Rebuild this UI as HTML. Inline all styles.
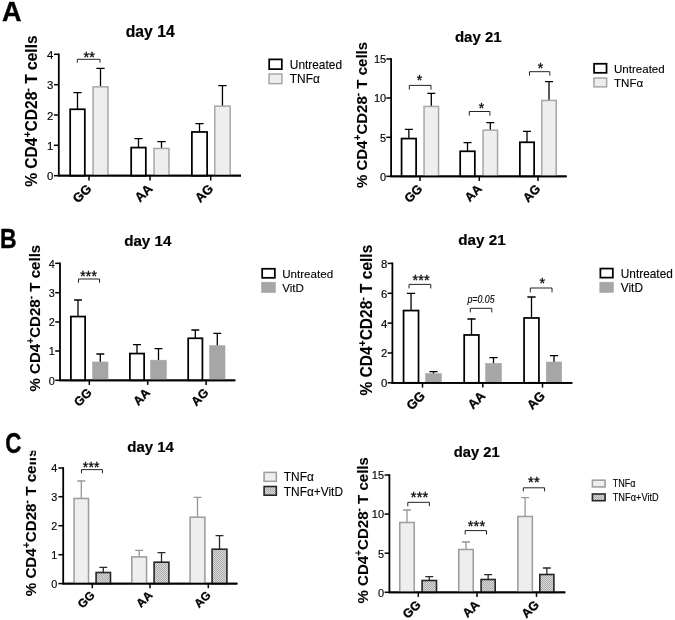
<!DOCTYPE html>
<html lang="en">
<head>
<meta charset="utf-8">
<title>Figure</title>
<style>
html,body{margin:0;padding:0;background:#fff}
svg{display:block}
text{font-family:"Liberation Sans", sans-serif;fill:#000}
</style>
</head>
<body>
<svg width="675" height="620" viewBox="0 0 675 620">
<defs>
<pattern id="hatch" width="2" height="2" patternUnits="userSpaceOnUse">
<rect width="2" height="2" fill="#d8d8d8"/>
<rect width="1" height="1" fill="#adadad"/>
<rect x="1" y="1" width="1" height="1" fill="#adadad"/>
</pattern>
<filter id="soft" x="0" y="0" width="675" height="620" filterUnits="userSpaceOnUse"><feGaussianBlur stdDeviation="0.35"/></filter>
<clipPath id="clipC"><path d="M29.8 450.7H60V620H0V466.2H29.8Z"/></clipPath>
</defs>
<rect width="675" height="620" fill="#fff"/>
<g filter="url(#soft)">
<path d="M58.8 53.5V175.7H241" fill="none" stroke="#000" stroke-width="1.8"/>
<path d="M54 54.3H58.8" stroke="#000" stroke-width="1.5"/>
<text x="53.4" y="58.8" font-size="11.4" text-anchor="end" stroke="#000" stroke-width="0.15">4</text>
<path d="M54 84.7H58.8" stroke="#000" stroke-width="1.5"/>
<text x="53.4" y="89.2" font-size="11.4" text-anchor="end" stroke="#000" stroke-width="0.15">3</text>
<path d="M54 115H58.8" stroke="#000" stroke-width="1.5"/>
<text x="53.4" y="119.5" font-size="11.4" text-anchor="end" stroke="#000" stroke-width="0.15">2</text>
<path d="M54 145.3H58.8" stroke="#000" stroke-width="1.5"/>
<text x="53.4" y="149.8" font-size="11.4" text-anchor="end" stroke="#000" stroke-width="0.15">1</text>
<path d="M54 175.7H58.8" stroke="#000" stroke-width="1.5"/>
<text x="53.4" y="180.2" font-size="11.4" text-anchor="end" stroke="#000" stroke-width="0.15">0</text>
<path d="M89 175.7V180.5" stroke="#000" stroke-width="1.5"/>
<path d="M150 175.7V180.5" stroke="#000" stroke-width="1.5"/>
<path d="M210.7 175.7V180.5" stroke="#000" stroke-width="1.5"/>
<text transform="translate(92.4 189.5) rotate(-45)" font-size="13" font-weight="bold" text-anchor="end" stroke="#000" stroke-width="0.3">GG</text>
<text transform="translate(153.4 189.5) rotate(-45)" font-size="13" font-weight="bold" text-anchor="end" stroke="#000" stroke-width="0.3">AA</text>
<text transform="translate(214.1 189.5) rotate(-45)" font-size="13" font-weight="bold" text-anchor="end" stroke="#000" stroke-width="0.3">AG</text>
<path d="M77.5 109V92.6M73.35 92.6H81.65" fill="none" stroke="#000" stroke-width="1.3"/>
<rect x="70.17" y="109.28" width="14.65" height="66.42" fill="#fff" stroke="#000" stroke-width="1.75"/>
<path d="M100.5 86.7V68.3M96.35 68.3H104.65" fill="none" stroke="#000" stroke-width="1.3"/>
<rect x="93.05" y="86.85" width="14.9" height="88.85" fill="#eeeeee" stroke="#a7a7a7" stroke-width="1.5"/>
<path d="M138.5 147.3V138.7M134.35 138.7H142.65" fill="none" stroke="#000" stroke-width="1.3"/>
<rect x="131.18" y="147.58" width="14.65" height="28.12" fill="#fff" stroke="#000" stroke-width="1.75"/>
<path d="M161.5 148.3V141.7M157.35 141.7H165.65" fill="none" stroke="#000" stroke-width="1.3"/>
<rect x="154.05" y="148.45" width="14.9" height="27.25" fill="#eeeeee" stroke="#a7a7a7" stroke-width="1.5"/>
<path d="M199.5 131.7V123.7M195.35 123.7H203.65" fill="none" stroke="#000" stroke-width="1.3"/>
<rect x="191.88" y="131.97" width="15.25" height="43.73" fill="#fff" stroke="#000" stroke-width="1.75"/>
<path d="M222.45 106V85.7M218.3 85.7H226.6" fill="none" stroke="#000" stroke-width="1.3"/>
<rect x="214.75" y="106.15" width="15.4" height="69.55" fill="#eeeeee" stroke="#a7a7a7" stroke-width="1.5"/>
<path d="M57.9 175.7H241" stroke="#000" stroke-width="1.8"/>
<path d="M77.3 62.7V59.3H100V62.7" fill="none" stroke="#222" stroke-width="1"/>
<text x="89.3" y="62.2" font-size="14.5" text-anchor="middle" fill="#111" stroke="#111" stroke-width="0.35" letter-spacing="0.2">**</text>
<g><text transform="translate(37 186.8) rotate(-90)" font-size="16" font-weight="bold" stroke="#000" stroke-width="0.1" textLength="151.4" lengthAdjust="spacingAndGlyphs">% CD4<tspan font-size="10.88" dy="-6">+</tspan><tspan dy="6">CD28</tspan><tspan font-size="10.88" dy="-6">-</tspan><tspan dy="6"> T cells</tspan></text></g>
<text x="150.2" y="36.7" font-size="15.7" font-weight="bold" text-anchor="middle" stroke="#000" stroke-width="0.2">day 14</text>
<rect x="269.18" y="59.38" width="12.65" height="9.75" fill="#fff" stroke="#000" stroke-width="1.75"/>
<rect x="269.05" y="74.05" width="12.9" height="9.6" fill="#eeeeee" stroke="#a7a7a7" stroke-width="1.5"/>
<text x="289.8" y="68.7" font-size="11.9" stroke="#000" stroke-width="0.12">Untreated</text>
<text x="289.8" y="83.2" font-size="11.9" stroke="#000" stroke-width="0.12">TNFα</text>
<path d="M391.1 58.2V176.3H566.6" fill="none" stroke="#000" stroke-width="1.8"/>
<path d="M386.3 59H391.1" stroke="#000" stroke-width="1.5"/>
<text x="386.2" y="63.35" font-size="11.01" text-anchor="end" stroke="#000" stroke-width="0.15">15</text>
<path d="M386.3 98H391.1" stroke="#000" stroke-width="1.5"/>
<text x="386.2" y="102.35" font-size="11.01" text-anchor="end" stroke="#000" stroke-width="0.15">10</text>
<path d="M386.3 137.3H391.1" stroke="#000" stroke-width="1.5"/>
<text x="386.2" y="141.65" font-size="11.01" text-anchor="end" stroke="#000" stroke-width="0.15">5</text>
<path d="M386.3 176.3H391.1" stroke="#000" stroke-width="1.5"/>
<text x="386.2" y="180.65" font-size="11.01" text-anchor="end" stroke="#000" stroke-width="0.15">0</text>
<path d="M420 176.3V180.96" stroke="#000" stroke-width="1.5"/>
<path d="M479.3 176.3V180.96" stroke="#000" stroke-width="1.5"/>
<path d="M538 176.3V180.96" stroke="#000" stroke-width="1.5"/>
<text transform="translate(423.28 189.63) rotate(-45)" font-size="12.56" font-weight="bold" text-anchor="end" stroke="#000" stroke-width="0.3">GG</text>
<text transform="translate(482.58 189.63) rotate(-45)" font-size="12.56" font-weight="bold" text-anchor="end" stroke="#000" stroke-width="0.3">AA</text>
<text transform="translate(541.28 189.63) rotate(-45)" font-size="12.56" font-weight="bold" text-anchor="end" stroke="#000" stroke-width="0.3">AG</text>
<path d="M408.85 138.3V129.3M404.84 129.3H412.86" fill="none" stroke="#000" stroke-width="1.3"/>
<rect x="401.57" y="138.58" width="14.55" height="37.73" fill="#fff" stroke="#000" stroke-width="1.75"/>
<path d="M431.3 106.3V93.3M427.29 93.3H435.31" fill="none" stroke="#000" stroke-width="1.3"/>
<rect x="424.05" y="106.45" width="14.5" height="69.85" fill="#eeeeee" stroke="#a7a7a7" stroke-width="1.5"/>
<path d="M467.5 151V142.7M463.49 142.7H471.51" fill="none" stroke="#000" stroke-width="1.3"/>
<rect x="460.18" y="151.28" width="14.65" height="25.03" fill="#fff" stroke="#000" stroke-width="1.75"/>
<path d="M490.3 130V122.7M486.29 122.7H494.31" fill="none" stroke="#000" stroke-width="1.3"/>
<rect x="483.05" y="130.15" width="14.5" height="46.15" fill="#eeeeee" stroke="#a7a7a7" stroke-width="1.5"/>
<path d="M527 142V131.3M522.99 131.3H531.01" fill="none" stroke="#000" stroke-width="1.3"/>
<rect x="519.88" y="142.28" width="14.25" height="34.03" fill="#fff" stroke="#000" stroke-width="1.75"/>
<path d="M549 100.3V81.7M544.99 81.7H553.01" fill="none" stroke="#000" stroke-width="1.3"/>
<rect x="541.75" y="100.45" width="14.5" height="75.85" fill="#eeeeee" stroke="#a7a7a7" stroke-width="1.5"/>
<path d="M390.2 176.3H566.6" stroke="#000" stroke-width="1.8"/>
<path d="M409.3 89.6V85.4H431V89.6" fill="none" stroke="#222" stroke-width="1"/>
<text x="419.5" y="85.06" font-size="14.01" text-anchor="middle" fill="#111" stroke="#111" stroke-width="0.35" letter-spacing="0.2">*</text>
<path d="M469.3 115.6V111.5H489.9V115.6" fill="none" stroke="#222" stroke-width="1"/>
<text x="481.6" y="112.96" font-size="14.01" text-anchor="middle" fill="#111" stroke="#111" stroke-width="0.35" letter-spacing="0.2">*</text>
<path d="M529.5 75.6V71.7H549.8V75.6" fill="none" stroke="#222" stroke-width="1"/>
<text x="540.7" y="72.96" font-size="14.01" text-anchor="middle" fill="#111" stroke="#111" stroke-width="0.35" letter-spacing="0.2">*</text>
<g><text transform="translate(366.8 188.1) rotate(-90)" font-size="15.46" font-weight="bold" stroke="#000" stroke-width="0.1" textLength="146.2" lengthAdjust="spacingAndGlyphs">% CD4<tspan font-size="10.51" dy="-5.8">+</tspan><tspan dy="5.8">CD28</tspan><tspan font-size="10.51" dy="-5.8">-</tspan><tspan dy="5.8"> T cells</tspan></text></g>
<text x="478.3" y="42.3" font-size="15" font-weight="bold" text-anchor="middle" stroke="#000" stroke-width="0.2">day 21</text>
<rect x="594.08" y="63.77" width="12.45" height="9.05" fill="#fff" stroke="#000" stroke-width="1.75"/>
<rect x="593.95" y="78.05" width="12.7" height="8.8" fill="#eeeeee" stroke="#a7a7a7" stroke-width="1.5"/>
<text x="614" y="72.8" font-size="11.55" stroke="#000" stroke-width="0.12">Untreated</text>
<text x="614" y="86.6" font-size="11.55" stroke="#000" stroke-width="0.12">TNFα</text>
<path d="M60 262.5V380.3H235.3" fill="none" stroke="#000" stroke-width="1.8"/>
<path d="M55.2 263.3H60" stroke="#000" stroke-width="1.5"/>
<text x="54.7" y="267.6" font-size="10.89" text-anchor="end" stroke="#000" stroke-width="0.15">4</text>
<path d="M55.2 292.7H60" stroke="#000" stroke-width="1.5"/>
<text x="54.7" y="297" font-size="10.89" text-anchor="end" stroke="#000" stroke-width="0.15">3</text>
<path d="M55.2 322H60" stroke="#000" stroke-width="1.5"/>
<text x="54.7" y="326.3" font-size="10.89" text-anchor="end" stroke="#000" stroke-width="0.15">2</text>
<path d="M55.2 351H60" stroke="#000" stroke-width="1.5"/>
<text x="54.7" y="355.3" font-size="10.89" text-anchor="end" stroke="#000" stroke-width="0.15">1</text>
<path d="M55.2 380.3H60" stroke="#000" stroke-width="1.5"/>
<text x="54.7" y="384.6" font-size="10.89" text-anchor="end" stroke="#000" stroke-width="0.15">0</text>
<path d="M89.3 380.3V384.91" stroke="#000" stroke-width="1.5"/>
<path d="M147.7 380.3V384.91" stroke="#000" stroke-width="1.5"/>
<path d="M206.1 380.3V384.91" stroke="#000" stroke-width="1.5"/>
<text transform="translate(92.55 393.48) rotate(-45)" font-size="12.41" font-weight="bold" text-anchor="end" stroke="#000" stroke-width="0.3">GG</text>
<text transform="translate(150.95 393.48) rotate(-45)" font-size="12.41" font-weight="bold" text-anchor="end" stroke="#000" stroke-width="0.3">AA</text>
<text transform="translate(209.35 393.48) rotate(-45)" font-size="12.41" font-weight="bold" text-anchor="end" stroke="#000" stroke-width="0.3">AG</text>
<path d="M78 316.3V300M74.04 300H81.96" fill="none" stroke="#000" stroke-width="1.3"/>
<rect x="70.88" y="316.57" width="14.25" height="63.73" fill="#fff" stroke="#000" stroke-width="1.75"/>
<path d="M100.3 362.3V354M96.34 354H104.26" fill="none" stroke="#000" stroke-width="1.3"/>
<rect x="92.6" y="362" width="15.4" height="18.3" fill="#a6a6a6" stroke="#a6a6a6" stroke-width="0.6"/>
<path d="M137 353.3V344.7M133.04 344.7H140.96" fill="none" stroke="#000" stroke-width="1.3"/>
<rect x="129.88" y="353.57" width="14.25" height="26.73" fill="#fff" stroke="#000" stroke-width="1.75"/>
<path d="M158.5 360.5V348.7M154.54 348.7H162.46" fill="none" stroke="#000" stroke-width="1.3"/>
<rect x="150.6" y="360.2" width="15.8" height="20.1" fill="#a6a6a6" stroke="#a6a6a6" stroke-width="0.6"/>
<path d="M195.3 338V330M191.34 330H199.26" fill="none" stroke="#000" stroke-width="1.3"/>
<rect x="188.18" y="338.27" width="14.25" height="42.03" fill="#fff" stroke="#000" stroke-width="1.75"/>
<path d="M217.3 346V333.3M213.34 333.3H221.26" fill="none" stroke="#000" stroke-width="1.3"/>
<rect x="209.6" y="345.7" width="15.4" height="34.6" fill="#a6a6a6" stroke="#a6a6a6" stroke-width="0.6"/>
<path d="M59.1 380.3H235.3" stroke="#000" stroke-width="1.8"/>
<path d="M78.5 282.8V279H99.5V282.8" fill="none" stroke="#222" stroke-width="1"/>
<text x="88.6" y="280.88" font-size="13.85" text-anchor="middle" fill="#111" stroke="#111" stroke-width="0.35" letter-spacing="0.2">***</text>
<g><text transform="translate(39.6 391.5) rotate(-90)" font-size="15.28" font-weight="bold" stroke="#000" stroke-width="0.1" textLength="146.7" lengthAdjust="spacingAndGlyphs">% CD4<tspan font-size="10.39" dy="-5.73">+</tspan><tspan dy="5.73">CD28</tspan><tspan font-size="10.39" dy="-5.73">-</tspan><tspan dy="5.73"> T cells</tspan></text></g>
<text x="147.8" y="246.3" font-size="15.2" font-weight="bold" text-anchor="middle" stroke="#000" stroke-width="0.2">day 14</text>
<rect x="262.18" y="268.77" width="12.65" height="9.05" fill="#fff" stroke="#000" stroke-width="1.75"/>
<rect x="261.6" y="282.2" width="13.8" height="10.3" fill="#a6a6a6" stroke="#a6a6a6" stroke-width="0.6"/>
<text x="282.2" y="277.8" font-size="11.6" stroke="#000" stroke-width="0.12">Untreated</text>
<text x="282.2" y="291.6" font-size="11.6" stroke="#000" stroke-width="0.12">VitD</text>
<path d="M392.4 262.6V382.8H572.3" fill="none" stroke="#000" stroke-width="1.8"/>
<path d="M387.6 263.4H392.4" stroke="#000" stroke-width="1.5"/>
<text x="387.3" y="267.88" font-size="11.35" text-anchor="end" stroke="#000" stroke-width="0.15">8</text>
<path d="M387.6 293.3H392.4" stroke="#000" stroke-width="1.5"/>
<text x="387.3" y="297.78" font-size="11.35" text-anchor="end" stroke="#000" stroke-width="0.15">6</text>
<path d="M387.6 323.1H392.4" stroke="#000" stroke-width="1.5"/>
<text x="387.3" y="327.58" font-size="11.35" text-anchor="end" stroke="#000" stroke-width="0.15">4</text>
<path d="M387.6 353H392.4" stroke="#000" stroke-width="1.5"/>
<text x="387.3" y="357.48" font-size="11.35" text-anchor="end" stroke="#000" stroke-width="0.15">2</text>
<path d="M387.6 382.8H392.4" stroke="#000" stroke-width="1.5"/>
<text x="387.3" y="387.28" font-size="11.35" text-anchor="end" stroke="#000" stroke-width="0.15">0</text>
<path d="M422.5 382.8V387.58" stroke="#000" stroke-width="1.5"/>
<path d="M482.8 382.8V387.58" stroke="#000" stroke-width="1.5"/>
<path d="M542.5 382.8V387.58" stroke="#000" stroke-width="1.5"/>
<text transform="translate(425.89 396.54) rotate(-45)" font-size="12.95" font-weight="bold" text-anchor="end" stroke="#000" stroke-width="0.3">GG</text>
<text transform="translate(486.19 396.54) rotate(-45)" font-size="12.95" font-weight="bold" text-anchor="end" stroke="#000" stroke-width="0.3">AA</text>
<text transform="translate(545.89 396.54) rotate(-45)" font-size="12.95" font-weight="bold" text-anchor="end" stroke="#000" stroke-width="0.3">AG</text>
<path d="M411.05 310.3V293.3M406.92 293.3H415.18" fill="none" stroke="#000" stroke-width="1.3"/>
<rect x="403.57" y="310.57" width="14.95" height="72.22" fill="#fff" stroke="#000" stroke-width="1.75"/>
<path d="M433.5 374V371.7M429.37 371.7H437.63" fill="none" stroke="#000" stroke-width="1.3"/>
<rect x="425.6" y="373.7" width="15.8" height="9.1" fill="#a6a6a6" stroke="#a6a6a6" stroke-width="0.6"/>
<path d="M471.5 334.7V319M467.37 319H475.63" fill="none" stroke="#000" stroke-width="1.3"/>
<rect x="464.18" y="334.97" width="14.65" height="47.83" fill="#fff" stroke="#000" stroke-width="1.75"/>
<path d="M493.5 363.7V357.7M489.37 357.7H497.63" fill="none" stroke="#000" stroke-width="1.3"/>
<rect x="485.6" y="363.4" width="15.8" height="19.4" fill="#a6a6a6" stroke="#a6a6a6" stroke-width="0.6"/>
<path d="M531.5 317.7V297M527.37 297H535.63" fill="none" stroke="#000" stroke-width="1.3"/>
<rect x="524.08" y="317.97" width="14.85" height="64.83" fill="#fff" stroke="#000" stroke-width="1.75"/>
<path d="M554 362.3V355.7M549.87 355.7H558.13" fill="none" stroke="#000" stroke-width="1.3"/>
<rect x="546.3" y="362" width="15.4" height="20.8" fill="#a6a6a6" stroke="#a6a6a6" stroke-width="0.6"/>
<path d="M391.5 382.8H572.3" stroke="#000" stroke-width="1.8"/>
<path d="M409 288.4V284.4H430.8V288.4" fill="none" stroke="#222" stroke-width="1"/>
<text x="421.2" y="284.97" font-size="14.44" text-anchor="middle" fill="#111" stroke="#111" stroke-width="0.35" letter-spacing="0.2">***</text>
<path d="M470.3 312.4V308.3H491.8V312.4" fill="none" stroke="#222" stroke-width="1"/>
<text x="467.4" y="302.7" font-size="10.2" font-style="italic" textLength="27.2" lengthAdjust="spacingAndGlyphs" fill="#1a1a1a" stroke="#1a1a1a" stroke-width="0.12">p=0.05</text>
<path d="M530.3 292.4V288H552V292.4" fill="none" stroke="#222" stroke-width="1"/>
<text x="542.3" y="287.87" font-size="14.44" text-anchor="middle" fill="#111" stroke="#111" stroke-width="0.35" letter-spacing="0.2">*</text>
<g><text transform="translate(371.9 395.5) rotate(-90)" font-size="15.94" font-weight="bold" stroke="#000" stroke-width="0.1" textLength="150.8" lengthAdjust="spacingAndGlyphs">% CD4<tspan font-size="10.84" dy="-5.98">+</tspan><tspan dy="5.98">CD28</tspan><tspan font-size="10.84" dy="-5.98">-</tspan><tspan dy="5.98"> T cells</tspan></text></g>
<text x="482" y="245" font-size="15.24" font-weight="bold" text-anchor="middle" stroke="#000" stroke-width="0.2">day 21</text>
<rect x="600.38" y="268.57" width="12.45" height="9.05" fill="#fff" stroke="#000" stroke-width="1.75"/>
<rect x="599.8" y="282.2" width="13.6" height="10.3" fill="#a6a6a6" stroke="#a6a6a6" stroke-width="0.6"/>
<text x="620.8" y="277.5" font-size="11.85" stroke="#000" stroke-width="0.12">Untreated</text>
<text x="620.8" y="291.8" font-size="11.85" stroke="#000" stroke-width="0.12">VitD</text>
<path d="M63.2 467.2V583.6H237.4" fill="none" stroke="#000" stroke-width="1.8"/>
<path d="M58.4 468H63.2" stroke="#000" stroke-width="1.5"/>
<text x="57.4" y="472.28" font-size="10.84" text-anchor="end" stroke="#000" stroke-width="0.15">4</text>
<path d="M58.4 496.7H63.2" stroke="#000" stroke-width="1.5"/>
<text x="57.4" y="500.98" font-size="10.84" text-anchor="end" stroke="#000" stroke-width="0.15">3</text>
<path d="M58.4 525.7H63.2" stroke="#000" stroke-width="1.5"/>
<text x="57.4" y="529.98" font-size="10.84" text-anchor="end" stroke="#000" stroke-width="0.15">2</text>
<path d="M58.4 554.7H63.2" stroke="#000" stroke-width="1.5"/>
<text x="57.4" y="558.98" font-size="10.84" text-anchor="end" stroke="#000" stroke-width="0.15">1</text>
<path d="M58.4 583.6H63.2" stroke="#000" stroke-width="1.5"/>
<text x="57.4" y="587.88" font-size="10.84" text-anchor="end" stroke="#000" stroke-width="0.15">0</text>
<path d="M92.3 583.6V588.19" stroke="#000" stroke-width="1.5"/>
<path d="M150 583.6V588.19" stroke="#000" stroke-width="1.5"/>
<path d="M208.3 583.6V588.19" stroke="#000" stroke-width="1.5"/>
<text transform="translate(95.53 596.02) rotate(-45)" font-size="11.87" font-weight="bold" text-anchor="end" stroke="#000" stroke-width="0.3">GG</text>
<text transform="translate(153.23 596.02) rotate(-45)" font-size="11.87" font-weight="bold" text-anchor="end" stroke="#000" stroke-width="0.3">AA</text>
<text transform="translate(211.53 596.02) rotate(-45)" font-size="11.87" font-weight="bold" text-anchor="end" stroke="#000" stroke-width="0.3">AG</text>
<path d="M81.3 498.3V481M77.35 481H85.25" fill="none" stroke="#969696" stroke-width="1.3"/>
<rect x="74.08" y="498.47" width="14.45" height="85.12" fill="#eeeeee" stroke="#9e9e9e" stroke-width="1.55"/>
<path d="M103.3 572.3V567.3M99.35 567.3H107.25" fill="none" stroke="#2a2a2a" stroke-width="1.3"/>
<rect x="96.1" y="572.5" width="14.4" height="11.1" fill="url(#hatch)" stroke="#262626" stroke-width="1.6"/>
<path d="M139.15 556.7V550.3M135.2 550.3H143.1" fill="none" stroke="#969696" stroke-width="1.3"/>
<rect x="131.78" y="556.88" width="14.75" height="26.72" fill="#eeeeee" stroke="#9e9e9e" stroke-width="1.55"/>
<path d="M161.5 562V552.7M157.55 552.7H165.45" fill="none" stroke="#2a2a2a" stroke-width="1.3"/>
<rect x="154.1" y="562.2" width="14.8" height="21.4" fill="url(#hatch)" stroke="#262626" stroke-width="1.6"/>
<path d="M197.5 517V497.3M193.55 497.3H201.45" fill="none" stroke="#969696" stroke-width="1.3"/>
<rect x="190.08" y="517.17" width="14.85" height="66.43" fill="#eeeeee" stroke="#9e9e9e" stroke-width="1.55"/>
<path d="M219.5 549V535.7M215.55 535.7H223.45" fill="none" stroke="#2a2a2a" stroke-width="1.3"/>
<rect x="212.1" y="549.2" width="14.8" height="34.4" fill="url(#hatch)" stroke="#262626" stroke-width="1.6"/>
<path d="M62.3 583.6H237.4" stroke="#000" stroke-width="1.8"/>
<path d="M81.5 473.3V469.6H102.4V473.3" fill="none" stroke="#222" stroke-width="1"/>
<text x="91.2" y="471.65" font-size="13.79" text-anchor="middle" fill="#111" stroke="#111" stroke-width="0.35" letter-spacing="0.2">***</text>
<g clip-path="url(#clipC)"><text transform="translate(36.1 596.3) rotate(-90)" font-size="15.22" font-weight="bold" stroke="#000" stroke-width="0.1" textLength="147.7" lengthAdjust="spacingAndGlyphs">% CD4<tspan font-size="10.35" dy="-5.71">+</tspan><tspan dy="5.71">CD28</tspan><tspan font-size="10.35" dy="-5.71">-</tspan><tspan dy="5.71"> T cells</tspan></text></g>
<text x="150.6" y="452.2" font-size="15" font-weight="bold" text-anchor="middle" stroke="#000" stroke-width="0.2">day 14</text>
<rect x="264.07" y="472.38" width="12.25" height="8.95" fill="#eeeeee" stroke="#9e9e9e" stroke-width="1.55"/>
<rect x="264.1" y="486.5" width="12.2" height="8.7" fill="url(#hatch)" stroke="#262626" stroke-width="1.6"/>
<text x="283.8" y="481.2" font-size="11.9" stroke="#000" stroke-width="0.12">TNFα</text>
<text x="283.8" y="495.8" font-size="11.9" stroke="#000" stroke-width="0.12">TNFα+VitD</text>
<path d="M389.4 474.2V592.3H565.3" fill="none" stroke="#000" stroke-width="1.8"/>
<path d="M384.6 475H389.4" stroke="#000" stroke-width="1.5"/>
<text x="384" y="479.33" font-size="10.97" text-anchor="end" stroke="#000" stroke-width="0.15">15</text>
<path d="M384.6 514.1H389.4" stroke="#000" stroke-width="1.5"/>
<text x="384" y="518.43" font-size="10.97" text-anchor="end" stroke="#000" stroke-width="0.15">10</text>
<path d="M384.6 553.2H389.4" stroke="#000" stroke-width="1.5"/>
<text x="384" y="557.53" font-size="10.97" text-anchor="end" stroke="#000" stroke-width="0.15">5</text>
<path d="M384.6 592.3H389.4" stroke="#000" stroke-width="1.5"/>
<text x="384" y="596.63" font-size="10.97" text-anchor="end" stroke="#000" stroke-width="0.15">0</text>
<path d="M418.3 592.3V596.94" stroke="#000" stroke-width="1.5"/>
<path d="M477 592.3V596.94" stroke="#000" stroke-width="1.5"/>
<path d="M536.5 592.3V596.94" stroke="#000" stroke-width="1.5"/>
<text transform="translate(421.57 605.58) rotate(-45)" font-size="12.51" font-weight="bold" text-anchor="end" stroke="#000" stroke-width="0.3">GG</text>
<text transform="translate(480.27 605.58) rotate(-45)" font-size="12.51" font-weight="bold" text-anchor="end" stroke="#000" stroke-width="0.3">AA</text>
<text transform="translate(539.77 605.58) rotate(-45)" font-size="12.51" font-weight="bold" text-anchor="end" stroke="#000" stroke-width="0.3">AG</text>
<path d="M407 522.3V510M403.01 510H410.99" fill="none" stroke="#969696" stroke-width="1.3"/>
<rect x="399.77" y="522.47" width="14.45" height="69.82" fill="#eeeeee" stroke="#9e9e9e" stroke-width="1.55"/>
<path d="M429.3 580.3V576.7M425.31 576.7H433.29" fill="none" stroke="#2a2a2a" stroke-width="1.3"/>
<rect x="422.1" y="580.5" width="14.4" height="11.8" fill="url(#hatch)" stroke="#262626" stroke-width="1.6"/>
<path d="M466 549.3V542M462.01 542H469.99" fill="none" stroke="#969696" stroke-width="1.3"/>
<rect x="458.77" y="549.47" width="14.45" height="42.83" fill="#eeeeee" stroke="#9e9e9e" stroke-width="1.55"/>
<path d="M488.15 579.3V574.7M484.16 574.7H492.14" fill="none" stroke="#2a2a2a" stroke-width="1.3"/>
<rect x="481.1" y="579.5" width="14.1" height="12.8" fill="url(#hatch)" stroke="#262626" stroke-width="1.6"/>
<path d="M525.1 516.3V497.7M521.11 497.7H529.09" fill="none" stroke="#969696" stroke-width="1.3"/>
<rect x="517.88" y="516.47" width="14.45" height="75.82" fill="#eeeeee" stroke="#9e9e9e" stroke-width="1.55"/>
<path d="M546.85 574.3V568M542.86 568H550.84" fill="none" stroke="#2a2a2a" stroke-width="1.3"/>
<rect x="539.8" y="574.5" width="14.1" height="17.8" fill="url(#hatch)" stroke="#262626" stroke-width="1.6"/>
<path d="M388.5 592.3H565.3" stroke="#000" stroke-width="1.8"/>
<path d="M407.8 506.2V502.3H429.4V506.2" fill="none" stroke="#222" stroke-width="1"/>
<text x="419.6" y="502.23" font-size="14.6" text-anchor="middle" fill="#111" stroke="#111" stroke-width="0.35" letter-spacing="0.2">***</text>
<path d="M465.2 534.5V530.6H486.5V534.5" fill="none" stroke="#222" stroke-width="1"/>
<text x="476.5" y="530.73" font-size="14.6" text-anchor="middle" fill="#111" stroke="#111" stroke-width="0.35" letter-spacing="0.2">***</text>
<path d="M523.3 491.4V487.8H544.6V491.4" fill="none" stroke="#222" stroke-width="1"/>
<text x="533.9" y="486.73" font-size="14.6" text-anchor="middle" fill="#111" stroke="#111" stroke-width="0.35" letter-spacing="0.2">**</text>
<g><text transform="translate(367.9 603.5) rotate(-90)" font-size="15.39" font-weight="bold" stroke="#000" stroke-width="0.1" textLength="146.4" lengthAdjust="spacingAndGlyphs">% CD4<tspan font-size="10.47" dy="-5.77">+</tspan><tspan dy="5.77">CD28</tspan><tspan font-size="10.47" dy="-5.77">-</tspan><tspan dy="5.77"> T cells</tspan></text></g>
<text x="476.7" y="457.4" font-size="14.72" font-weight="bold" text-anchor="middle" stroke="#000" stroke-width="0.2">day 21</text>
<rect x="592.38" y="480.17" width="12.75" height="6.75" fill="#eeeeee" stroke="#9e9e9e" stroke-width="1.55"/>
<rect x="592.4" y="494" width="12.7" height="6.7" fill="url(#hatch)" stroke="#262626" stroke-width="1.6"/>
<text x="612.7" y="486.7" font-size="10.4" stroke="#000" stroke-width="0.12" textLength="22.9" lengthAdjust="spacingAndGlyphs">TNFα</text>
<text x="612.7" y="500.8" font-size="10.4" stroke="#000" stroke-width="0.12" textLength="46" lengthAdjust="spacingAndGlyphs">TNFα+VitD</text>
<text transform="translate(2.1 20.6) scale(1 1)" font-size="27" font-weight="bold" stroke="#000" stroke-width="0.4">A</text>
<text transform="translate(-0.1 247.5) scale(0.835 1)" font-size="27.5" font-weight="bold" stroke="#000" stroke-width="0.4">B</text>
<text transform="translate(5.2 452.6) scale(0.78 1)" font-size="28.7" font-weight="bold" stroke="#000" stroke-width="0.4">C</text>
</g>
</svg>
</body>
</html>
